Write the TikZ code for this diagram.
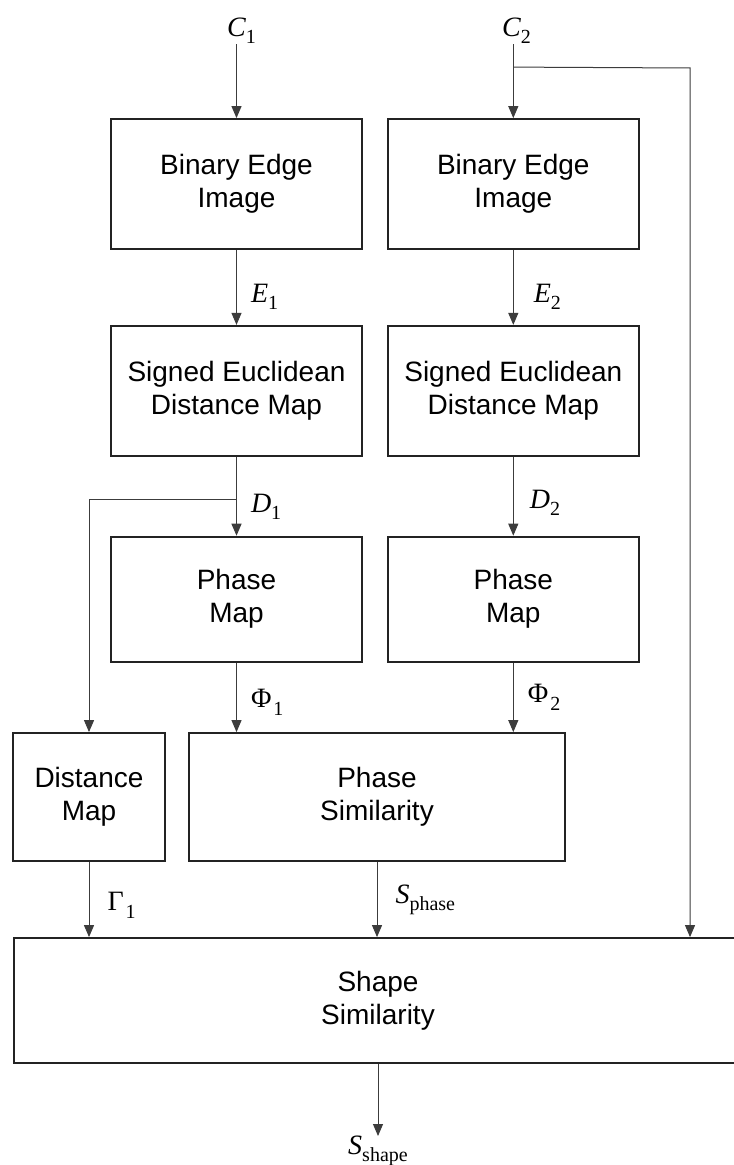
\documentclass[tikz,border=0pt]{standalone}
\usepackage{fontspec}
\setmainfont{Liberation Sans}
\newfontfamily\lblfont{Liberation Serif}
\usepackage{tikz}
\usetikzlibrary{arrows.meta, positioning}
\definecolor{boxcol}{RGB}{35,35,35}
\definecolor{wirecol}{RGB}{60,60,60}
\newcommand{\varlbl}[2]{{\lblfont\itshape #1}\raisebox{-3.5pt}{\lblfont\fontsize{10}{10}\selectfont #2}}
\newcommand{\greeklbl}[2]{{\lblfont #1}\kern1pt\raisebox{-4pt}{\lblfont\fontsize{10}{10}\selectfont #2}}

\begin{document}
\begin{tikzpicture}[
  x=0.5pt, y=-0.5pt,
  >={Triangle[length=6pt, width=5pt]},
  box/.style={draw=boxcol, line width=0.9pt, minimum width=125.5pt,
              minimum height=65pt, inner sep=2pt, align=center,
              font=\fontsize{14}{16.5}\selectfont},
  wire/.style={->, draw=wirecol, line width=0.5pt},
  lbl/.style={inner sep=0pt, font=\lblfont\fontsize{14}{14}\selectfont}
]
  \useasboundingbox[fill=white] (0,0) rectangle (733,1165);

  % two input chains
  \node[box] (bei1) at (236.5,184) {Binary Edge\\Image};
  \node[box, right=12pt of bei1] (bei2) {Binary Edge\\Image};
  \node[box, below=37.5pt of bei1] (sed1) {Signed Euclidean\\Distance Map};
  \node[box, below=37.5pt of bei2] (sed2) {Signed Euclidean\\Distance Map};
  \node[box, minimum height=62.5pt, below=39.5pt of sed1] (pm1) {Phase\\Map};
  \node[box, minimum height=62.5pt, below=39.5pt of sed2] (pm2) {Phase\\Map};

  % similarity stage
  \node[box, minimum width=76pt, minimum height=64pt] (dm) at (89,797) {Distance\\Map};
  \node[box, minimum width=188pt, minimum height=64pt] (ps) at (377,797) {Phase\\Similarity};
  \node[box, minimum width=364pt, minimum height=62.5pt] (ss) at (378,1000.5) {Shape\\Similarity};

  % inputs and output
  \node[lbl, anchor=base] (c1) at (241.5,37) {\varlbl{C}{1}};
  \node[lbl, anchor=base] (c2) at (516.5,37) {\varlbl{C}{2}};
  \node[lbl, anchor=north] (sout) at (378,1136) {\varlbl{S}{shape}};

  \coordinate (ctap) at ([yshift=25.5pt]bei2.north);
  \coordinate (cturn) at (690,68);
  \coordinate (dtap) at ([yshift=-21.5pt]sed1.south);

  \draw[wire] (c1.south -| bei1.north) -- (bei1.north);
  \draw[wire] (c2.south -| bei2.north) -- (bei2.north);
  \draw[wire] (ctap) -- (cturn) -- (cturn |- ss.north);

  \draw[wire] (bei1) -- (sed1) node[lbl, right=7pt, pos=.62] {\varlbl{E}{1}};
  \draw[wire] (bei2) -- (sed2) node[lbl, right=10pt, pos=.62] {\varlbl{E}{2}};
  \draw[wire] (sed1) -- (pm1) node[lbl, right=7pt, pos=.64] {\varlbl{D}{1}};
  \draw[wire] (sed2) -- (pm2) node[lbl, right=8pt, pos=.58] {\varlbl{D}{2}};
  \draw[wire] (dtap) -| (dm.north);

  \draw[wire] (pm1.south) -- (pm1.south |- ps.north) node[lbl, right=7pt, pos=.57] {\greeklbl{Φ}{1}};
  \draw[wire] (pm2.south) -- (pm2.south |- ps.north) node[lbl, right=7pt, pos=.5] {\greeklbl{Φ}{2}};

  \draw[wire] (dm.south) -- (dm.south |- ss.north) node[lbl, right=9pt, pos=.58] {\greeklbl{Γ}{1}};
  \draw[wire] (ps.south) -- (ps.south |- ss.north) node[lbl, right=9pt, pos=.5] {\varlbl{S}{phase}};
  \draw[wire] (ss.south) -- (sout.north);
\end{tikzpicture}
\end{document}
